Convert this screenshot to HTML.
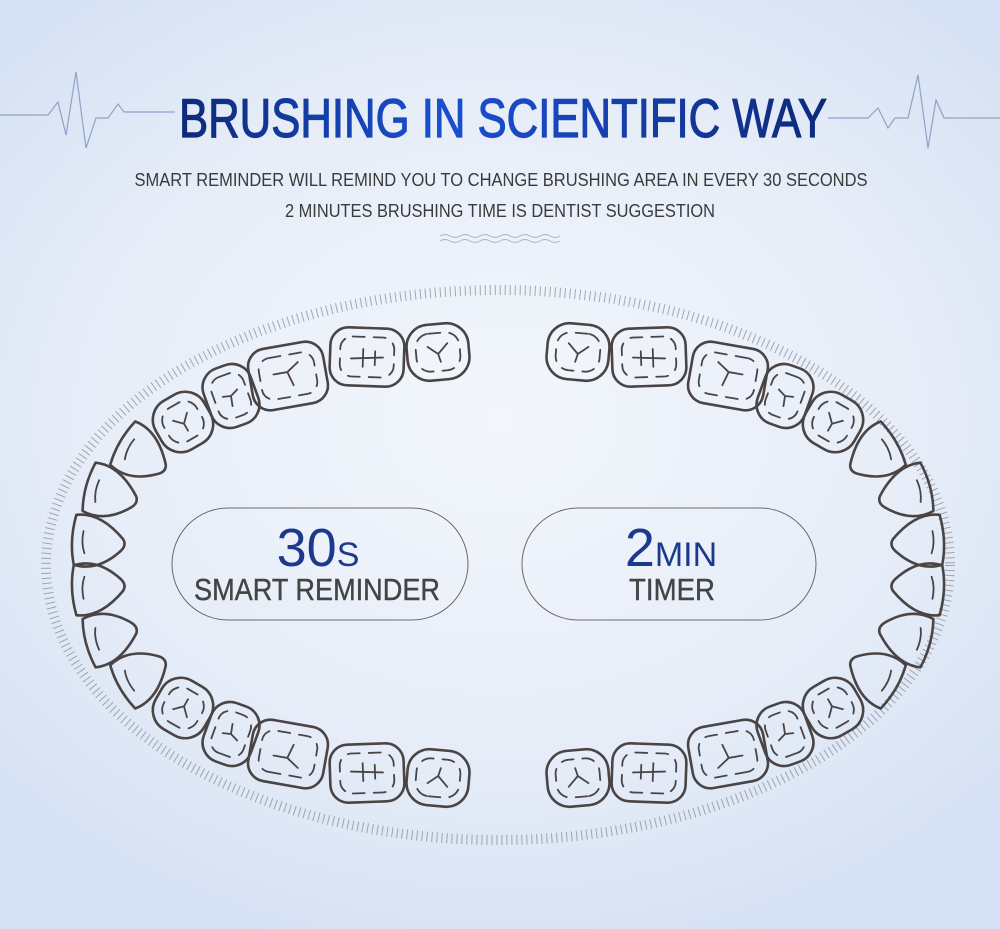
<!DOCTYPE html>
<html><head><meta charset="utf-8"><style>
html,body{margin:0;padding:0}
body{width:1000px;height:929px;overflow:hidden;background:radial-gradient(ellipse 700px 560px at 500px 420px,#f3f6fc 0%,#e6edf8 60%,#d4e0f3 100%);font-family:"Liberation Sans",sans-serif}
</style></head><body>
<svg width="1000" height="929" viewBox="0 0 1000 929" xmlns="http://www.w3.org/2000/svg" style="position:absolute;left:0;top:0">
<defs>
<linearGradient id="tg" x1="0" x2="1" y1="0" y2="0">
<stop offset="0" stop-color="#0d2a78"/><stop offset="0.4" stop-color="#1a4fd0"/><stop offset="0.55" stop-color="#1a47c0"/><stop offset="1" stop-color="#0d2a78"/>
</linearGradient>
</defs>
<polyline points="0,115 48,115 58,102 66,135 76,72 86,148 96,118 108,118 118,104 124,112 175,112" fill="none" stroke="#8fa3c8" stroke-width="1.2"/>
<polyline points="828,118 868,118 878,108 888,128 895,118 908,118 918,75 928,148 936,100 944,118 1000,118" fill="none" stroke="#8fa3c8" stroke-width="1.2"/>
<text x="503" y="137" text-anchor="middle" font-family="Liberation Sans" font-size="55" fill="url(#tg)" stroke="url(#tg)" stroke-width="1.2" textLength="648" lengthAdjust="spacingAndGlyphs">BRUSHING IN SCIENTIFIC WAY</text>
<text x="501" y="186" text-anchor="middle" font-size="18" fill="#3a3a3a" textLength="733" lengthAdjust="spacingAndGlyphs">SMART REMINDER WILL REMIND YOU TO CHANGE BRUSHING AREA IN EVERY  30 SECONDS</text>
<text x="500" y="217" text-anchor="middle" font-size="18" fill="#3a3a3a" textLength="430" lengthAdjust="spacingAndGlyphs">2 MINUTES BRUSHING TIME IS DENTIST SUGGESTION</text>
<path d="M440,236 q5,-3 10,0 t10,0 t10,0 t10,0 t10,0 t10,0 t10,0 t10,0 t10,0 t10,0 t10,0 t10,0 M440,241 q5,-3 10,0 t10,0 t10,0 t10,0 t10,0 t10,0 t10,0 t10,0 t10,0 t10,0 t10,0 t10,0" fill="none" stroke="#a8b4c8" stroke-width="1"/>
<ellipse cx="498" cy="565" rx="452" ry="275" fill="none" stroke="#7a7f88" stroke-width="10" stroke-dasharray="1 4" opacity="0.65"/>
<rect x="172" y="508" width="296" height="112" rx="56" fill="none" stroke="#6a6a6a" stroke-width="1"/>
<rect x="522" y="508" width="294" height="112" rx="56" fill="none" stroke="#6a6a6a" stroke-width="1"/>
<text x="318" y="566" text-anchor="middle" fill="#1c3a8c" font-size="54"><tspan>30</tspan><tspan font-size="34">S</tspan></text>
<text x="317" y="600" text-anchor="middle" fill="#444" font-size="31" stroke="#444" stroke-width="0.4" textLength="246" lengthAdjust="spacingAndGlyphs">SMART REMINDER</text>
<text x="671" y="566" text-anchor="middle" fill="#1c3a8c" font-size="54"><tspan>2</tspan><tspan font-size="34">MIN</tspan></text>
<text x="672" y="600" text-anchor="middle" fill="#444" font-size="31" stroke="#444" stroke-width="0.4" textLength="86" lengthAdjust="spacingAndGlyphs">TIMER</text>
<g id="q" fill="none" stroke="#4a4444" stroke-width="2.6" stroke-linejoin="round" stroke-linecap="round">
 <g transform="translate(438,352) rotate(-5)">
  <rect x="-31" y="-28" width="62" height="56" rx="22"/>
  <rect x="-22" y="-19" width="44" height="38" rx="14" stroke-width="1.8" stroke-dasharray="12 9"/>
  <path d="M-10,-6 L0,2 L10,-8 M0,2 L2,10" stroke-width="1.8"/>
 </g>
 <g transform="translate(367,357) rotate(2)">
  <rect x="-37" y="-29" width="74" height="58" rx="18"/>
  <rect x="-27" y="-20" width="54" height="40" rx="12" stroke-width="1.8" stroke-dasharray="12 9"/>
  <path d="M-16,2 L16,0 M-4,-8 L-4,10 M8,-6 L8,8" stroke-width="1.8"/>
 </g>
 <g transform="translate(288,376) rotate(-10)">
  <rect x="-38" y="-31" width="76" height="62" rx="18"/>
  <rect x="-28" y="-21" width="56" height="42" rx="12" stroke-width="1.8" stroke-dasharray="12 9"/>
  <path d="M-14,-4 L0,-4 L12,-12 M0,-4 L4,10" stroke-width="1.8"/>
 </g>
 <g transform="translate(231,396) rotate(-20)">
  <rect x="-25" y="-31" width="50" height="62" rx="20"/>
  <rect x="-17" y="-22" width="34" height="44" rx="12" stroke-width="1.8" stroke-dasharray="12 9"/>
  <path d="M-8,-2 L0,0 L8,-4 M0,0 L-2,10" stroke-width="1.8"/>
 </g>
 <g transform="translate(183,422) rotate(-30)">
  <rect x="-28" y="-28" width="56" height="56" rx="22"/>
  <rect x="-19" y="-19" width="38" height="38" rx="14" stroke-width="1.8" stroke-dasharray="12 9"/>
  <path d="M-8,-6 L0,2 L8,-6 M0,2 L0,10" stroke-width="1.8"/>
 </g>
 <g transform="translate(143,456) rotate(30)">
  <path d="M-24,-26 Q0,-30 24,-4 Q28,2 22,8 Q0,30 -24,24 Q-30,0 -24,-26Z"/>
  <path d="M-16,-10 Q-18,2 -14,12" stroke-width="1.8"/>
 </g>
 <g transform="translate(112,494) rotate(15)">
  <path d="M-24,-26 Q0,-30 24,-4 Q28,2 22,8 Q0,30 -24,24 Q-30,0 -24,-26Z"/>
  <path d="M-16,-10 Q-18,2 -14,12" stroke-width="1.8"/>
 </g>
 <g transform="translate(99,542) rotate(3)">
  <path d="M-24,-26 Q0,-30 24,-4 Q28,2 22,8 Q0,30 -24,24 Q-30,0 -24,-26Z"/>
  <path d="M-16,-10 Q-18,2 -14,12" stroke-width="1.8"/>
 </g>
</g>
<use href="#q" transform="translate(0,1130) scale(1,-1)"/>
<use href="#q" transform="translate(1016,0) scale(-1,1)"/>
<use href="#q" transform="translate(1016,1130) scale(-1,-1)"/>
</svg>
</body></html>
